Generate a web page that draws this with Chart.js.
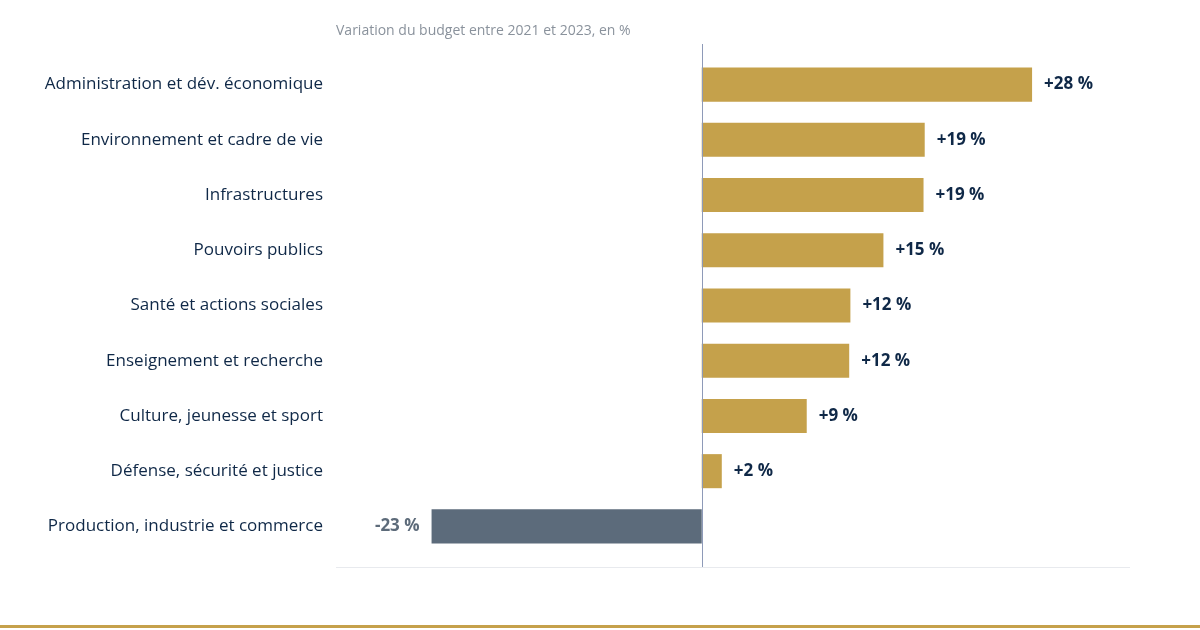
<!DOCTYPE html>
<html><head><meta charset="utf-8">
<script src="https://cdn.jsdelivr.net/npm/chart.js@4"></script>
<style>html,body{margin:0;padding:0;background:#fff}#w{width:1200px;height:630px}</style>
</head><body><div id="w"><canvas id="c" width="1200" height="630"></canvas></div>
<script>
const categories = ["Administration et dév. économique","Environnement et cadre de vie","Infrastructures","Pouvoirs publics","Santé et actions sociales","Enseignement et recherche","Culture, jeunesse et sport","Défense, sécurité et justice","Production, industrie et commerce"];
const values = [28, 18.9, 18.8, 15.4, 12.6, 12.5, 8.9, 1.7, -22.9];
const labels = ["+28 %","+19 %","+19 %","+15 %","+12 %","+12 %","+9 %","+2 %","-23 %"];
const title = "Variation du budget entre 2021 et 2023, en %";
const NAVY = "#0f2847", GOLD = "#c5a14b", SLATE = "#5d6b7a";
const deco = {
  id:'deco',
  afterDatasetsDraw(chart){
    const ctx = chart.ctx, x = chart.scales.x, ca = chart.chartArea;
    const x0 = x.getPixelForValue(0);
    ctx.save();
    ctx.strokeStyle = "#e8eaee"; ctx.lineWidth = 1;
    ctx.beginPath(); ctx.moveTo(336,567.5); ctx.lineTo(1130,567.5); ctx.stroke();
    ctx.strokeStyle = "#8e9ab8";
    ctx.beginPath(); ctx.moveTo(Math.round(x0)+0.5,44); ctx.lineTo(Math.round(x0)+0.5,567); ctx.stroke();
    ctx.fillStyle = "#8a929c"; ctx.font = "14px 'Open Sans', sans-serif";
    ctx.textAlign = "left"; ctx.textBaseline = "middle";
    ctx.fillText(title, 336, 31);
    ctx.font = "bold 17px 'Open Sans', sans-serif";
    chart.getDatasetMeta(0).data.forEach((b,i)=>{
      const v = values[i];
      if (v >= 0){ ctx.fillStyle = NAVY; ctx.textAlign = "left"; ctx.fillText(labels[i], b.x+12, b.y); }
      else { ctx.fillStyle = SLATE; ctx.textAlign = "right"; ctx.fillText(labels[i], b.x-12, b.y); }
    });
    ctx.fillStyle = GOLD; ctx.fillRect(0,625,1200,3);
    ctx.restore();
  }
};
new Chart(document.getElementById('c'), {
  type:'bar',
  data:{labels:categories, datasets:[{data:values, backgroundColor:values.map(v=>v>=0?GOLD:"#5c6b7b"), barPercentage:0.617, categoryPercentage:1}]},
  options:{
    indexAxis:'y', responsive:false, animation:false,
    layout:{padding:{top:57,bottom:76,right:70,left:0}},
    plugins:{legend:{display:false},tooltip:{enabled:false}},
    scales:{
      x:{display:false,min:-31,max:36.3},
      y:{grid:{display:false},border:{display:false},
         afterFit(s){s.width=336;},
         ticks:{color:NAVY,padding:5,font:{size:17,family:"'Open Sans', sans-serif"}}}
    }
  },
  plugins:[deco]
});
</script></body></html>
